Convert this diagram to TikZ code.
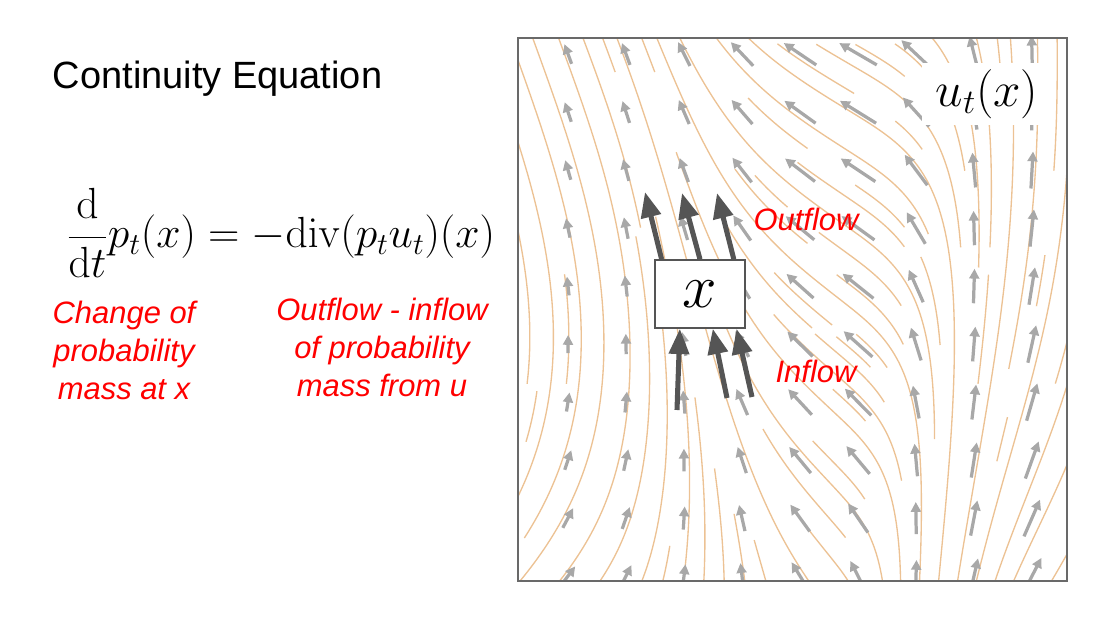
\documentclass[tikz,border=0pt]{standalone}
\usepackage{fix-cm}
\usepackage[no-math]{fontspec}
\newfontfamily\labelfont{Liberation Sans}
\usetikzlibrary{arrows.meta,calc}

\definecolor{flowtan}{RGB}{236,194,148}
\definecolor{quivergray}{RGB}{168,168,168}
\definecolor{boxgray}{RGB}{85,85,85}
\definecolor{framegray}{RGB}{105,105,105}

\tikzset{
  flowline/.style={flowtan, line width=0.95pt},
  quiver/.style={quivergray, line width=2.3pt, -{Triangle[width=7pt,length=7pt]}},
  bigarrow/.style={boxgray, line width=3.6pt, -{Triangle[width=14pt,length=18pt]}},
  redlabel/.style={text=red, font=\labelfont\itshape\fontsize{22}{27}\selectfont, align=center},
  xbox/.style={draw=boxgray, line width=1pt, fill=white, minimum width=64pt, minimum height=48.4pt, inner sep=0pt},
  utlabel/.style={fill=white, minimum width=92pt, minimum height=44pt, inner sep=0pt},
}

%% slope dX/dY of the field at (X,Y), result in \fslope
\newcommand\fieldslope[2]{%
  \pgfmathsetmacro\fcen{0.57+0.05*(#2)}%
  \pgfmathsetmacro\fdx{(#1)-\fcen}%
  \pgfmathsetmacro\fwid{(\fdx<0) ? (0.015+0.06*(#2)) : (0.006+0.018*(#2))}%
  \pgfmathsetmacro\fmid{-(0.75+(#2))*exp(max(-9,-(\fdx)*(\fdx)/\fwid))}%
  \pgfmathsetmacro\fleft{(1.3*(0.45-(#2))+1.2*(0.45-(#2))*(0.45-(#2)))/(1+exp(max(-9,min(9,((#1)-0.22)/0.05))))}%
  \pgfmathsetmacro\fright{0.6*max(0,1-(#2))*sqrt(max(0,1-(#2)))*exp(max(-9,-((#1)-1)*((#1)-1)/0.03))}%
  \pgfmathsetmacro\fslope{\fmid+\fleft+\fright}%
}

%% one midpoint step of length 0.012 along the field, #1 = 1 (up) or -1 (down)
\newcommand\fieldstep[1]{%
  \fieldslope{\flx}{\fly}%
  \pgfmathsetmacro\hy{(#1)*0.012/sqrt(1+(\fslope)*(\fslope))}%
  \pgfmathsetmacro\mx{\flx+0.5*(\hy)*(\fslope)}%
  \pgfmathsetmacro\my{\fly+0.5*(\hy)}%
  \fieldslope{\mx}{\my}%
  \pgfmathsetmacro\hy{(#1)*0.012/sqrt(1+(\fslope)*(\fslope))}%
  \pgfmathsetmacro\flx{\flx+(\hy)*(\fslope)}%
  \pgfmathsetmacro\fly{\fly+(\hy)}%
}

%% 28x28 mask of used cells, as for a streamplot
\newif\ifgoing
\newif\ifkeep
\newcount\npts
\newcount\nsteps
\newcommand\markcell{%
  \ifcsname occ@\cx @\cy\endcsname
    \goingfalse\keepfalse
  \else
    \expandafter\gdef\csname occ@\cx @\cy\endcsname{}%
    \edef\newcells{\newcells,\cx/\cy}%
    \edef\lastcx{\cx}\edef\lastcy{\cy}%
  \fi}
\newcommand\cellcheck{%
  \keeptrue
  \pgfmathtruncatemacro\cx{floor(\flx*28)}%
  \pgfmathtruncatemacro\cy{floor(\fly*28)}%
  \ifnum\cx<0 \goingfalse\else\ifnum\cx>27 \goingfalse\else
  \ifnum\cy<0 \goingfalse\else\ifnum\cy>27 \goingfalse\else
    \ifnum\cx=\lastcx\relax
      \ifnum\cy=\lastcy\relax\else\markcell\fi
    \else\markcell\fi
  \fi\fi\fi\fi}
\newcommand\tracedown{%
  \let\flx\seedx\let\fly\seedy\let\lastcx\seedcx\let\lastcy\seedcy
  \goingtrue\nsteps=0
  \loop
    \fieldstep{-1}\cellcheck
    \ifkeep\edef\ptlist{(\flx,\fly) \ptlist}\advance\npts1 \fi
    \advance\nsteps1 \ifnum\nsteps>250 \goingfalse\fi
  \ifgoing\repeat}
\newcommand\traceup{%
  \let\flx\seedx\let\fly\seedy\let\lastcx\seedcx\let\lastcy\seedcy
  \goingtrue\nsteps=0
  \loop
    \fieldstep{1}\cellcheck
    \ifkeep\edef\ptlist{\ptlist\space(\flx,\fly)}\advance\npts1 \fi
    \advance\nsteps1 \ifnum\nsteps>250 \goingfalse\fi
  \ifgoing\repeat}
\newcommand\drawtrace{%
  \ifnum\npts>6
    \edef\flowpath{\noexpand\draw[flowline] plot[smooth] coordinates {\ptlist};}\flowpath
  \else
    \foreach \a/\b in \newcells {\global\expandafter\let\csname occ@\a @\b\endcsname\undefined}%
  \fi}
\newcommand\startstream{%
  \expandafter\gdef\csname occ@\cx @\cy\endcsname{}%
  \edef\newcells{\cx/\cy}%
  \let\seedcx\cx\let\seedcy\cy
  \edef\ptlist{(\seedx,\seedy)}\npts=1
  \tracedown\traceup\drawtrace}
\newcommand\tracestream[2]{%
  \pgfmathsetmacro\seedx{#1}\pgfmathsetmacro\seedy{#2}%
  \pgfmathtruncatemacro\cx{floor(\seedx*28)}%
  \pgfmathtruncatemacro\cy{floor(\seedy*28)}%
  \ifcsname occ@\cx @\cy\endcsname\else\startstream\fi}

\begin{document}
\begin{tikzpicture}[x=0.025cm, y=-0.025cm]
  \useasboundingbox (0,0) rectangle (1100,619);

  %% left side texts
  \node[anchor=base west, font=\labelfont\fontsize{27}{32}\selectfont] (title) at (48,88) {Continuity Equation};
  \node[font=\fontsize{31}{37}\selectfont] (eq) at (281,233)
    {$\displaystyle\frac{\mathrm{d}}{\mathrm{d}t}p_t(x) = -\mathrm{div}(p_tu_t)(x)$};
  \node[redlabel] (change) at (124,350) {Change of\\probability\\mass at x};
  \node[redlabel] (netflow) at (382,347) {Outflow - inflow\\of probability\\mass from u};

  %% vector field
  \begin{scope}
    \clip (518,38) rectangle (1067,581);
    \begin{scope}[shift={(518,581)}, xscale=549, yscale=-543]
      \foreach \j in {0,27}{\foreach \i in {0,...,27}{\tracestream{(\i+0.5)/28}{(\j+0.5)/28}}}
      \foreach \i in {0,27}{\foreach \j in {1,...,26}{\tracestream{(\i+0.5)/28}{(\j+0.5)/28}}}
      \foreach \j in {1,...,26}{\foreach \i in {1,...,26}{\tracestream{(\i+0.5)/28}{(\j+0.5)/28}}}
    \end{scope}
    \foreach \i in {0,...,9}{
      \foreach \j in {0,...,9}{
        \pgfmathsetmacro\gx{510+58*\i}
        \pgfmathsetmacro\gy{54+58*\j}
        \fieldslope{(\gx-518)/549}{(581-\gy)/543}
        \pgfmathsetmacro\glen{0.5*(16+22*(\gx-518)/549+8*abs(\fslope))}
        \pgfmathsetmacro\gn{sqrt(1+(\fslope)*(\fslope))}
        \pgfmathsetmacro\gdx{\glen*(\fslope)/\gn}
        \pgfmathsetmacro\gdy{\glen/\gn}
        \draw[quiver] (\gx-\gdx,\gy+\gdy) -- (\gx+\gdx,\gy-\gdy);
      }
    }
  \end{scope}
  \draw[framegray, line width=1pt] (518,38) rectangle (1067,581);
  \node[utlabel, font=\fontsize{35}{40}\selectfont] (ulabel) at (987,94) {$u_t(x)$};

  %% the point x with outflow and inflow
  \node[xbox, font=\fontsize{44}{50}\selectfont] (xpt) at (700,294) {$x$};
  \coordinate (out1) at (645,192);
  \coordinate (out2) at (682,193);
  \coordinate (out3) at (717,193);
  \coordinate (in1) at (677,410);
  \coordinate (in2) at (727,398);
  \coordinate (in3) at (752,397);
  \draw[bigarrow] ($(xpt.north west)!0.08!(xpt.north east)$) -- (out1);
  \draw[bigarrow] (xpt.north) -- (out2);
  \draw[bigarrow] ($(xpt.north west)!0.87!(xpt.north east)$) -- (out3);
  \draw[bigarrow] (in1) -- ($(xpt.south west)!0.28!(xpt.south east)$);
  \draw[bigarrow] (in2) -- ($(xpt.south west)!0.64!(xpt.south east)$);
  \draw[bigarrow] (in3) -- ($(xpt.south west)!0.9!(xpt.south east)$);
  \node[redlabel, anchor=base] (outlbl) at (806,230) {Outflow};
  \node[redlabel, anchor=base] (inlbl) at (816,382) {Inflow};
\end{tikzpicture}
\end{document}
